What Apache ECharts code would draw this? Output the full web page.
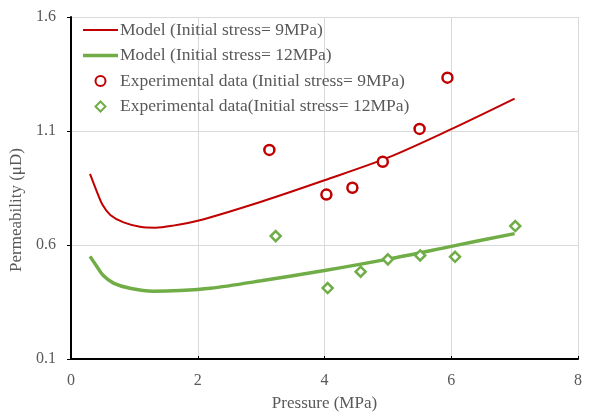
<!DOCTYPE html>
<html>
<head>
<meta charset="utf-8">
<script src="https://cdn.jsdelivr.net/npm/echarts@6/dist/echarts.min.js"></script>
<style>
html,body{margin:0;padding:0;background:#fff;}
#chart{width:612px;height:417px;}
</style>
</head>
<body>
<div id="chart"></div>
<script>
// Model curves [pressure MPa, permeability uD]
var model9 = [[0.30,0.912],[0.40,0.840],[0.50,0.775],[0.62,0.732],[0.83,0.699],[1.09,0.680],[1.33,0.676],[1.61,0.685],[2.0,0.706],[3.0,0.790],[4.0,0.884],[5.0,0.983],[6.0,1.108],[7.0,1.242]];
var model12 = [[0.30,0.550],[0.40,0.509],[0.51,0.466],[0.67,0.433],[0.93,0.410],[1.30,0.397],[1.72,0.400],[2.2,0.410],[3.0,0.443],[4.0,0.488],[5.0,0.538],[6.0,0.594],[7.0,0.650]];
// Experimental data
var exp9 = [[3.13,1.017],[4.03,0.821],[4.44,0.851],[4.92,0.965],[5.50,1.109],[5.94,1.334]];
var exp12 = [[3.23,0.639],[4.05,0.411],[4.57,0.483],[5.00,0.537],[5.51,0.554],[6.06,0.548],[7.01,0.683]];
var seriesNames = ['Model (Initial stress= 9MPa)','Model (Initial stress= 12MPa)','Experimental data (Initial stress= 9MPa)','Experimental data(Initial stress= 12MPa)'];
var xTicks = [0,2,4,6,8];
var yTicks = [0.1,0.6,1.1,1.6];

var RED = '#C00000', GREEN = '#70AD47', GREY = '#595959';
var FONT = 'Liberation Serif';
var chart = echarts.init(document.getElementById('chart'));
chart.setOption({
  animation: false,
  backgroundColor: '#fff',
  grid: {left: 71, right: 34, top: 17, bottom: 52, containLabel: false},
  legend: {
    orient: 'vertical', left: 78, top: 16,
    itemWidth: 35, itemHeight: 10, itemGap: 7.5,
    textStyle: {fontFamily: FONT, fontSize: 17.5, color: GREY, padding: [0,0,0,-3]},
    data: [
      {name: seriesNames[0], icon: 'path://M0,0 L35,0 L35,2 L0,2 Z', itemStyle: {color: RED, borderWidth: 0}},
      {name: seriesNames[1], icon: 'path://M0,0 L35,0 L35,3.5 L0,3.5 Z', itemStyle: {color: GREEN, borderWidth: 0}},
      {name: seriesNames[2], icon: 'circle'},
      {name: seriesNames[3], icon: 'path://M5,0 L10,5 L5,10 L0,5 Z'}
    ]
  },
  xAxis: {
    type: 'value', min: xTicks[0], max: xTicks[xTicks.length-1], interval: 2,
    name: 'Pressure (MPa)', nameLocation: 'middle', nameGap: 36,
    nameTextStyle: {fontFamily: FONT, fontSize: 17, color: GREY},
    axisLine: {show: true, onZero: false, lineStyle: {color: '#000', width: 2}},
    axisTick: {show: true, inside: true, length: 3, lineStyle: {color: '#000', width: 1}},
    axisLabel: {fontFamily: FONT, fontSize: 16, color: GREY, margin: 14},
    splitLine: {show: true, lineStyle: {color: '#d9d9d9', width: 1}}
  },
  yAxis: {
    type: 'value', min: yTicks[0], max: yTicks[yTicks.length-1], interval: 0.5,
    name: 'Permeability (\u03bcD)', nameLocation: 'middle', nameGap: 46,
    nameTextStyle: {fontFamily: FONT, fontSize: 17, color: GREY, padding: [0,44,0,0]},
    axisLine: {show: true, onZero: false, lineStyle: {color: '#000', width: 2}},
    axisTick: {show: true, length: 4, lineStyle: {color: '#000', width: 1}},
    axisLabel: {fontFamily: FONT, fontSize: 16, color: GREY, margin: 15,
      formatter: function(v){ return v.toFixed(1); }},
    splitLine: {show: true, lineStyle: {color: '#d9d9d9', width: 1}}
  },
  series: [
    {name: seriesNames[0], type: 'line', data: model9, smooth: 0.3, symbol: 'none',
     lineStyle: {color: RED, width: 2}, itemStyle: {color: RED}, z: 3},
    {name: seriesNames[1], type: 'line', data: model12, smooth: 0.3, symbol: 'none',
     lineStyle: {color: GREEN, width: 3.5}, itemStyle: {color: GREEN}, z: 3},
    {name: seriesNames[2], type: 'scatter', data: exp9, symbol: 'circle', symbolSize: 10,
     itemStyle: {color: '#fff', borderColor: RED, borderWidth: 2.5, opacity: 1}, z: 4},
    {name: seriesNames[3], type: 'scatter', data: exp12, symbol: 'diamond', symbolSize: 10,
     itemStyle: {color: '#fff', borderColor: GREEN, borderWidth: 2.5, opacity: 1}, z: 4}
  ]
});
</script>
</body>
</html>
